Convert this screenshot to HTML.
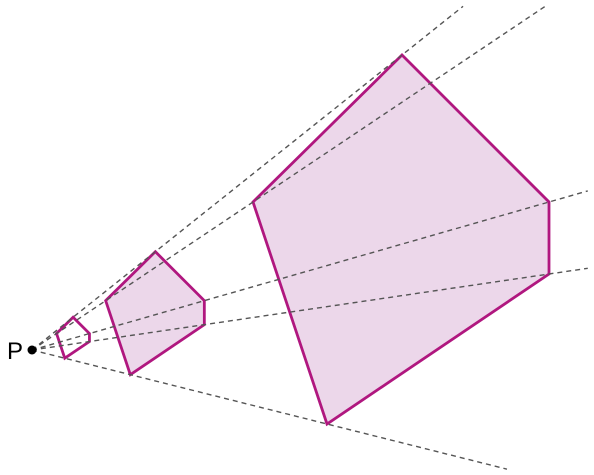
<!DOCTYPE html>
<html><head><meta charset="utf-8"><style>
html,body{margin:0;padding:0;background:#fff;}
svg{display:block;}
</style></head><body>
<svg id="c" width="594" height="475" viewBox="0 0 594 475"></svg>
<script>
const center = [32, 350];
const largeVertices = [[402,55],[549,202],[549,274],[327,424],[253,202]];
const scales = [1/9, 1/3, 1];
const rayLengths = [1.165, 1.075, 1.075, 1.61, 2.32];
const NS = 'http://www.w3.org/2000/svg';
const svg = document.getElementById('c');
function pt(v, s){ return [center[0] + (v[0]-center[0])*s, center[1] + (v[1]-center[1])*s]; }
scales.forEach((s, i) => {
  const p = document.createElementNS(NS, 'polygon');
  p.setAttribute('points', largeVertices.map(v => pt(v, s).join(',')).join(' '));
  p.setAttribute('fill', '#ecd7ea');
  p.setAttribute('fill-opacity', i === 0 ? '0' : '1');
  p.setAttribute('stroke', '#b0177f');
  p.setAttribute('stroke-width', '2.8');
  p.setAttribute('stroke-linejoin', 'miter');
  
  
  svg.appendChild(p);
});
largeVertices.forEach((v, i) => {
  const e = pt(v, rayLengths[i]);
  const l = document.createElementNS(NS, 'line');
  l.setAttribute('x1', center[0]); l.setAttribute('y1', center[1]);
  l.setAttribute('x2', e[0]); l.setAttribute('y2', e[1]);
  l.setAttribute('stroke', '#555');
  l.setAttribute('stroke-width', '1.4');
  l.setAttribute('stroke-dasharray', '5,4');
  
  
  svg.appendChild(l);
});
const dot = document.createElementNS(NS, 'circle');
dot.setAttribute('cx', center[0]); dot.setAttribute('cy', center[1]); dot.setAttribute('r', '4.5');
dot.setAttribute('fill', '#000');


svg.appendChild(dot);
const t = document.createElementNS(NS, 'text');
t.setAttribute('x', '7'); t.setAttribute('y', '359');
t.setAttribute('font-family', 'Liberation Sans, sans-serif');
t.setAttribute('font-size', '24');
t.textContent = 'P';


svg.appendChild(t);
</script>
</body></html>
